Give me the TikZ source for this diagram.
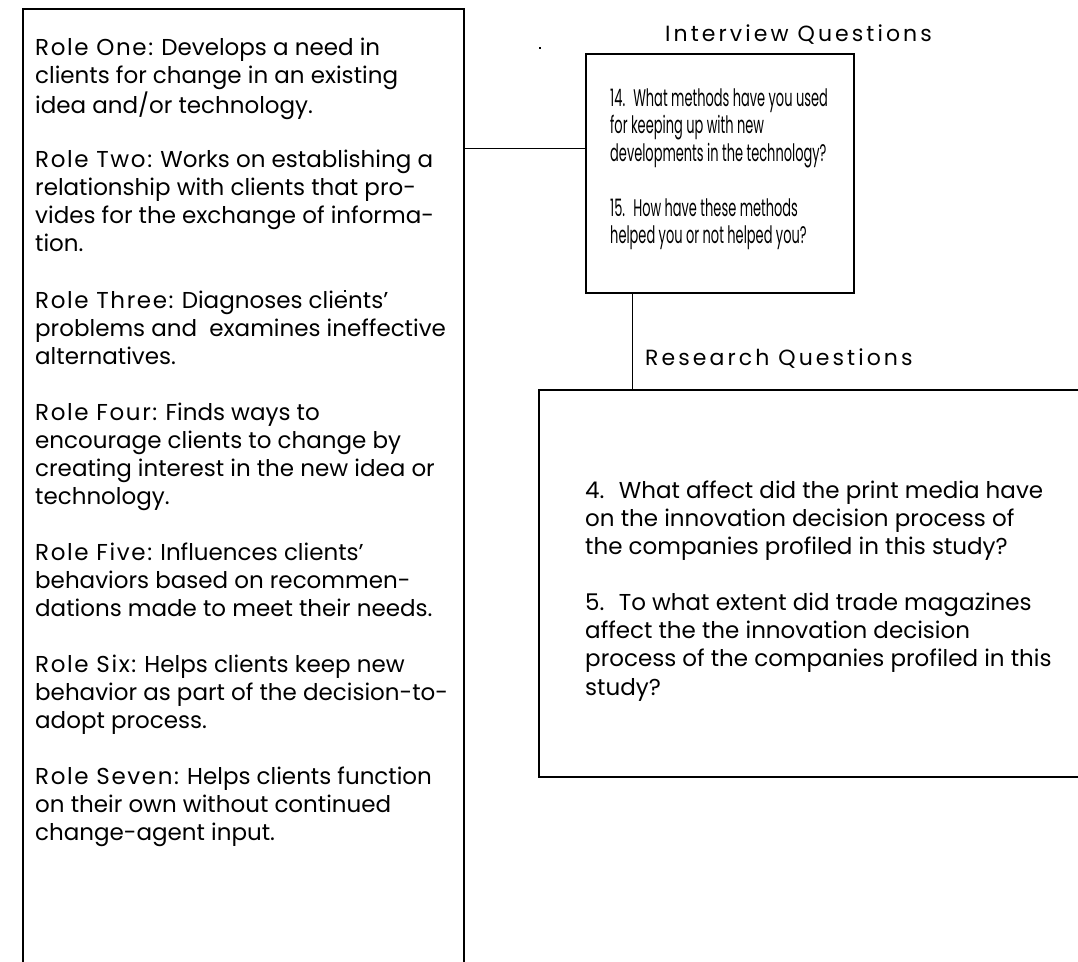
\documentclass[tikz,border=0pt]{standalone}
\usepackage{fontspec}
\setmainfont{Poppins}
\newfontfamily\narrowf[FakeStretch=0.54]{Poppins}
\newfontfamily\rolef[LetterSpace=7]{Poppins}
\newfontfamily\titlef[LetterSpace=14]{Poppins}
\newcommand\para[1]{\begin{tabular}[t]{@{}l@{}}#1\end{tabular}}
\newcommand\role[1]{{\rolef #1}}
\tikzset{
  boxst/.style={draw, line width=2.2pt, inner sep=0pt, anchor=north west},
  conn/.style={draw, line width=1pt},
  bodytext/.style={anchor=base west, inner sep=0pt, font=\fontsize{23}{28}\selectfont},
  qtext/.style={anchor=base west, inner sep=0pt, font=\narrowf\fontsize{24}{27.8}\selectfont},
  rtext/.style={anchor=base west, inner sep=0pt, font=\fontsize{23}{28.4}\selectfont},
  titletext/.style={anchor=base west, inner sep=0pt, font=\titlef\fontsize{22}{22}\selectfont}
}
\begin{document}
\begin{tikzpicture}[x=1pt,y=-1pt]
\useasboundingbox (0,0) rectangle (1078,961);
\clip (0,0) rectangle (1078,961);
% boxes
\node[boxst, minimum width=441pt, minimum height=990pt] (roles) at (22,8) {};
\node[boxst, minimum width=268pt, minimum height=239pt] (iq) at (585,53) {};
\node[boxst, minimum width=570pt, minimum height=387pt] (rq) at (538,389) {};
% connectors
\coordinate (hlevel) at (0,148);
\coordinate (vlevel) at (632,0);
\draw[conn] (roles.east |- hlevel) -- (iq.west |- hlevel);
\draw[conn] (iq.south -| vlevel) -- (rq.north -| vlevel);
% titles
\node[titletext] (iqtitle) at (665,41) {Interview Questions};
\node[titletext] (rqtitle) at (645,365) {Research Questions};
% roles
\node[bodytext] (r1) at (35,55) {\para{\role{Role One:} Develops a need in\\clients for change in an existing\\idea and/or technology.}};
\node[bodytext] (r2) at (35,167) {\para{\role{Role Two:} Works on establishing a\\relationship with clients that pro-\\vides for the exchange of informa-\\tion.}};
\node[bodytext] (r3) at (35,308) {\para{\role{Role Three:} Diagnoses clients’\\problems and\ \ examines ineffective\\alternatives.}};
\node[bodytext] (r4) at (35,420) {\para{\role{Role Four:} Finds ways to\\encourage clients to change by\\creating interest in the new idea or\\technology.}};
\node[bodytext] (r5) at (35,560) {\para{\role{Role Five:} Influences clients’\\behaviors based on recommen-\\dations made to meet their needs.}};
\node[bodytext] (r6) at (35,672) {\para{\role{Role Six:} Helps clients keep new\\behavior as part of the decision-to-\\adopt process.}};
\node[bodytext] (r7) at (35,784) {\para{\role{Role Seven:} Helps clients function\\on their own without continued\\change-agent input.}};
% interview questions
\node[qtext] (q14) at (610,106) {\para{14.~ What methods have you used\\for keeping up with new\\developments in the technology?}};
\node[qtext] (q15) at (610,216) {\para{15.~ How have these methods\\helped you or not helped you?}};
% research questions
\node[rtext] (q4) at (585,498) {\para{4.~ What affect did the print media have\\on the innovation decision process of\\the companies profiled in this study?}};
\node[rtext] (q5) at (585,610) {\para{5.~ To what extent did trade magazines\\affect the the innovation decision\\process of the companies profiled in this\\study?}};
% stray dots
\fill (539,47) rectangle (541,49);
\fill (344,290) rectangle (346,292);
\end{tikzpicture}
\end{document}
